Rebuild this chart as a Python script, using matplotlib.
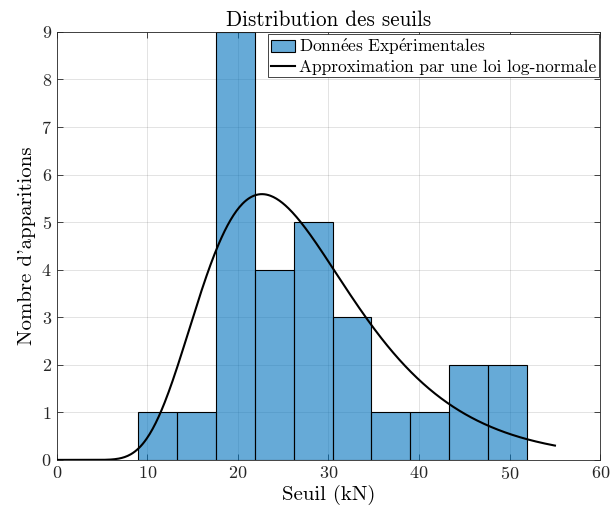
import numpy as np
import matplotlib.pyplot as plt

# histogramme des seuils (bords des classes et effectifs)
bin_edges = [8.97, 13.27, 17.56, 21.86, 26.15, 30.45, 34.74, 39.04, 43.34, 47.63, 51.93]
counts = [1, 1, 9, 4, 5, 3, 1, 1, 2, 2]

# parametres de la loi log-normale ajustee
mu = 3.255
sigma = 0.367
x_max = 55

plt.rcParams['font.family'] = ['cmr10', 'DejaVu Serif']
plt.rcParams['mathtext.fontset'] = 'cm'
plt.rcParams['axes.formatter.use_mathtext'] = True

fig = plt.figure(figsize=(6.1, 5.15), dpi=100)
ax = fig.add_axes([0.093, 0.107, 0.891, 0.831])

edges = np.array(bin_edges)
widths = np.diff(edges)
barres = ax.bar(edges[:-1], counts, width=widths, align='edge',
                color=(0, 0.447, 0.741, 0.6), edgecolor='black', linewidth=0.8, zorder=2)

x = np.linspace(0.01, x_max, 500)
pdf = np.exp(-(np.log(x) - mu) ** 2 / (2 * sigma ** 2)) / (x * sigma * np.sqrt(2 * np.pi))
y = pdf * sum(counts) * widths.mean()
x = np.concatenate([[0], x])
y = np.concatenate([[0], y])
courbe, = ax.plot(x, y, color='black', linewidth=1.5, zorder=3)

ax.set_xlim(0, 60)
ax.set_ylim(0, 9)
ax.set_xticks(range(0, 61, 10))
ax.set_yticks(range(0, 10))
ax.grid(True, color='#262626', alpha=0.15, linewidth=0.6, zorder=0)
ax.set_axisbelow(True)
ax.tick_params(direction='in', top=True, right=True, labelsize=13,
               colors='#262626', length=4, width=0.6)
for s in ax.spines.values():
    s.set_color('#262626')
    s.set_linewidth(0.6)

ax.set_title('Distribution des seuils', fontsize=15.2, pad=4)
ax.set_xlabel('Seuil (kN)', fontsize=15, labelpad=2)
ax.set_ylabel("Nombre d'apparitions", fontsize=15, labelpad=4)

leg = ax.legend([barres, courbe],
                [r'$\mathrm{Donn\acute{e}es\ Exp\acute{e}rimentales}$',
                 'Approximation par une loi log-normale'],
                loc='upper right', fontsize=12.5, fancybox=False, framealpha=1,
                edgecolor='#262626', borderpad=0.15, handlelength=1.4,
                handletextpad=0.2, borderaxespad=0.1, labelspacing=0.15)
leg.get_frame().set_linewidth(0.6)

fig.savefig('out.png', dpi=100)
